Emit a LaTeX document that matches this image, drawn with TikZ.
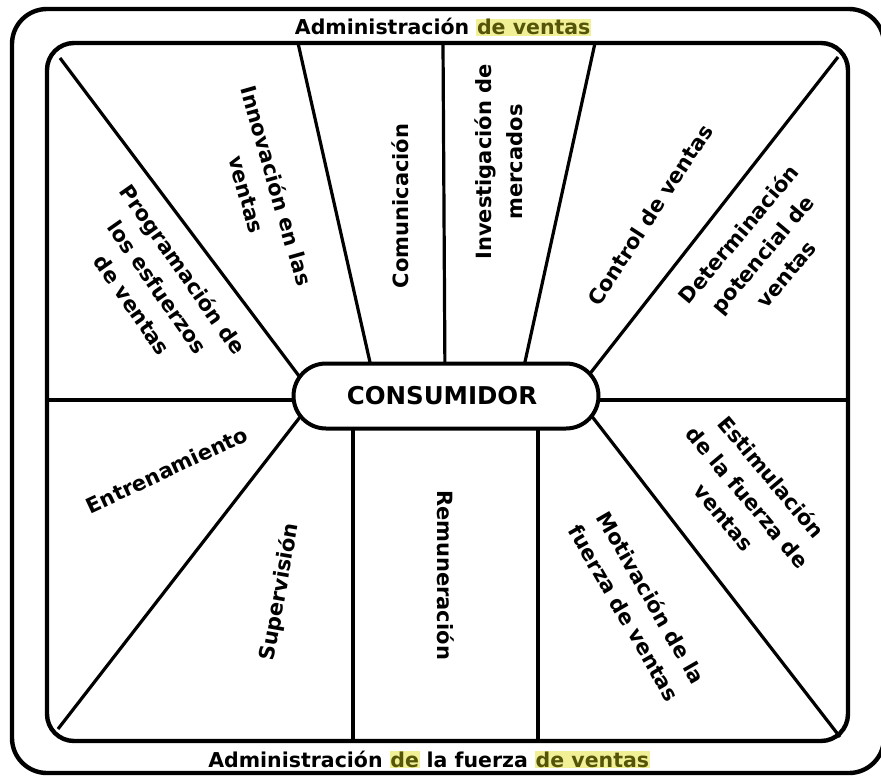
\documentclass[tikz,border=0pt]{standalone}
\usepackage{fontspec}
\setmainfont{DejaVu Sans}
\usepackage{xcolor}
\usetikzlibrary{shapes.misc}
\definecolor{hlyellow}{RGB}{242,240,150}
\definecolor{olivetext}{RGB}{85,85,10}
\newcommand\hlt[1]{{\setlength{\fboxsep}{0.6pt}\colorbox{hlyellow}{\textcolor{olivetext}{#1}}}}
\begin{document}
\begin{tikzpicture}[x=1pt,y=-1pt,
  frame/.style={line width=4.4pt},
  divider/.style={line width=3.2pt},
  capsule/.style={rounded rectangle, draw, fill=white, line width=4pt,
    minimum width=305pt, minimum height=65pt, inner sep=0pt,
    font=\fontsize{24.5}{28}\selectfont\bfseries},
  title/.style={anchor=base, inner sep=0pt, font=\fontsize{20.5}{24}\selectfont\bfseries},
  lab/.style={inner sep=0pt, align=center, font=\fontsize{21}{31}\selectfont\bfseries}]
\useasboundingbox (0,0) rectangle (881,776);

% outer and inner frames
\draw[frame, rounded corners=35pt] (12,9) rectangle (884,773);
\draw[frame, rounded corners=27pt] (47,43) rectangle (848,741);

% end points of the dividing lines
\coordinate (t1) at (298,43);  \coordinate (c1) at (374,380);
\coordinate (t2) at (443,43);  \coordinate (c2) at (445,380);
\coordinate (t3) at (595,43);  \coordinate (c3) at (521,380);
\coordinate (b1) at (353,741); \coordinate (d1) at (353,410);
\coordinate (b2) at (538,741); \coordinate (d2) at (538,410);
\coordinate (lh) at (47,400);  \coordinate (lc) at (310,400);
\coordinate (rh) at (848,400); \coordinate (rc) at (585,400);
\coordinate (ktl) at (60,58);  \coordinate (ctl) at (305,384);
\coordinate (ktr) at (838,57); \coordinate (ctr) at (585,380);
\coordinate (kbl) at (58,729); \coordinate (cbl) at (307,408);
\coordinate (kbr) at (840,737);\coordinate (cbr) at (587,410);

\draw[divider] (t1) -- (c1);
\draw[divider] (t2) -- (c2);
\draw[divider] (t3) -- (c3);
\draw[divider] (b1) -- (d1);
\draw[divider] (b2) -- (d2);
\draw[divider] (lh) -- (lc);
\draw[divider] (rh) -- (rc);
\draw[divider] (ktl) -- (ctl);
\draw[divider] (ktr) -- (ctr);
\draw[divider] (kbl) -- (cbl);
\draw[divider] (kbr) -- (cbr);

% centre
\node[capsule] (cons) at (446,396) {CONSUMIDOR\hspace*{8pt}};

% frame titles
\node[title] (top) at (443,35) {Administración \hlt{de ventas}};
\node[title] (bot) at (429,767) {Administración \hlt{de} la fuerza \hlt{de ventas}};

% sector labels
\node[lab, rotate=-55] (prog) at (158,287) {Programación de\\los esfuerzos\\de ventas};
\node[lab, rotate=-74] (innov) at (262,190) {Innovación en las\\ventas};
\node[lab, rotate=90] (comu) at (400,206) {Comunicación};
\node[lab, rotate=90] (inv) at (499,162) {Investigación de\\mercados};
\node[lab, rotate=57] (ctrl) at (650,215) {Control de ventas};
\node[lab, rotate=50] (det) at (762,254) {Determinación\\potencial de\\ventas};
\node[lab, rotate=-50] (est) at (748,497) {Estimulación\\de la fuerza de\\ventas};
\node[lab, rotate=-60] (mot) at (638,605) {Motivación de la\\fuerza de ventas};
\node[lab, rotate=-90] (rem) at (446,575) {Remuneración};
\node[lab, rotate=80] (sup) at (280,592) {Supervisión};
\node[lab, rotate=25] (ent) at (167,470) {Entrenamiento};
\end{tikzpicture}
\end{document}
